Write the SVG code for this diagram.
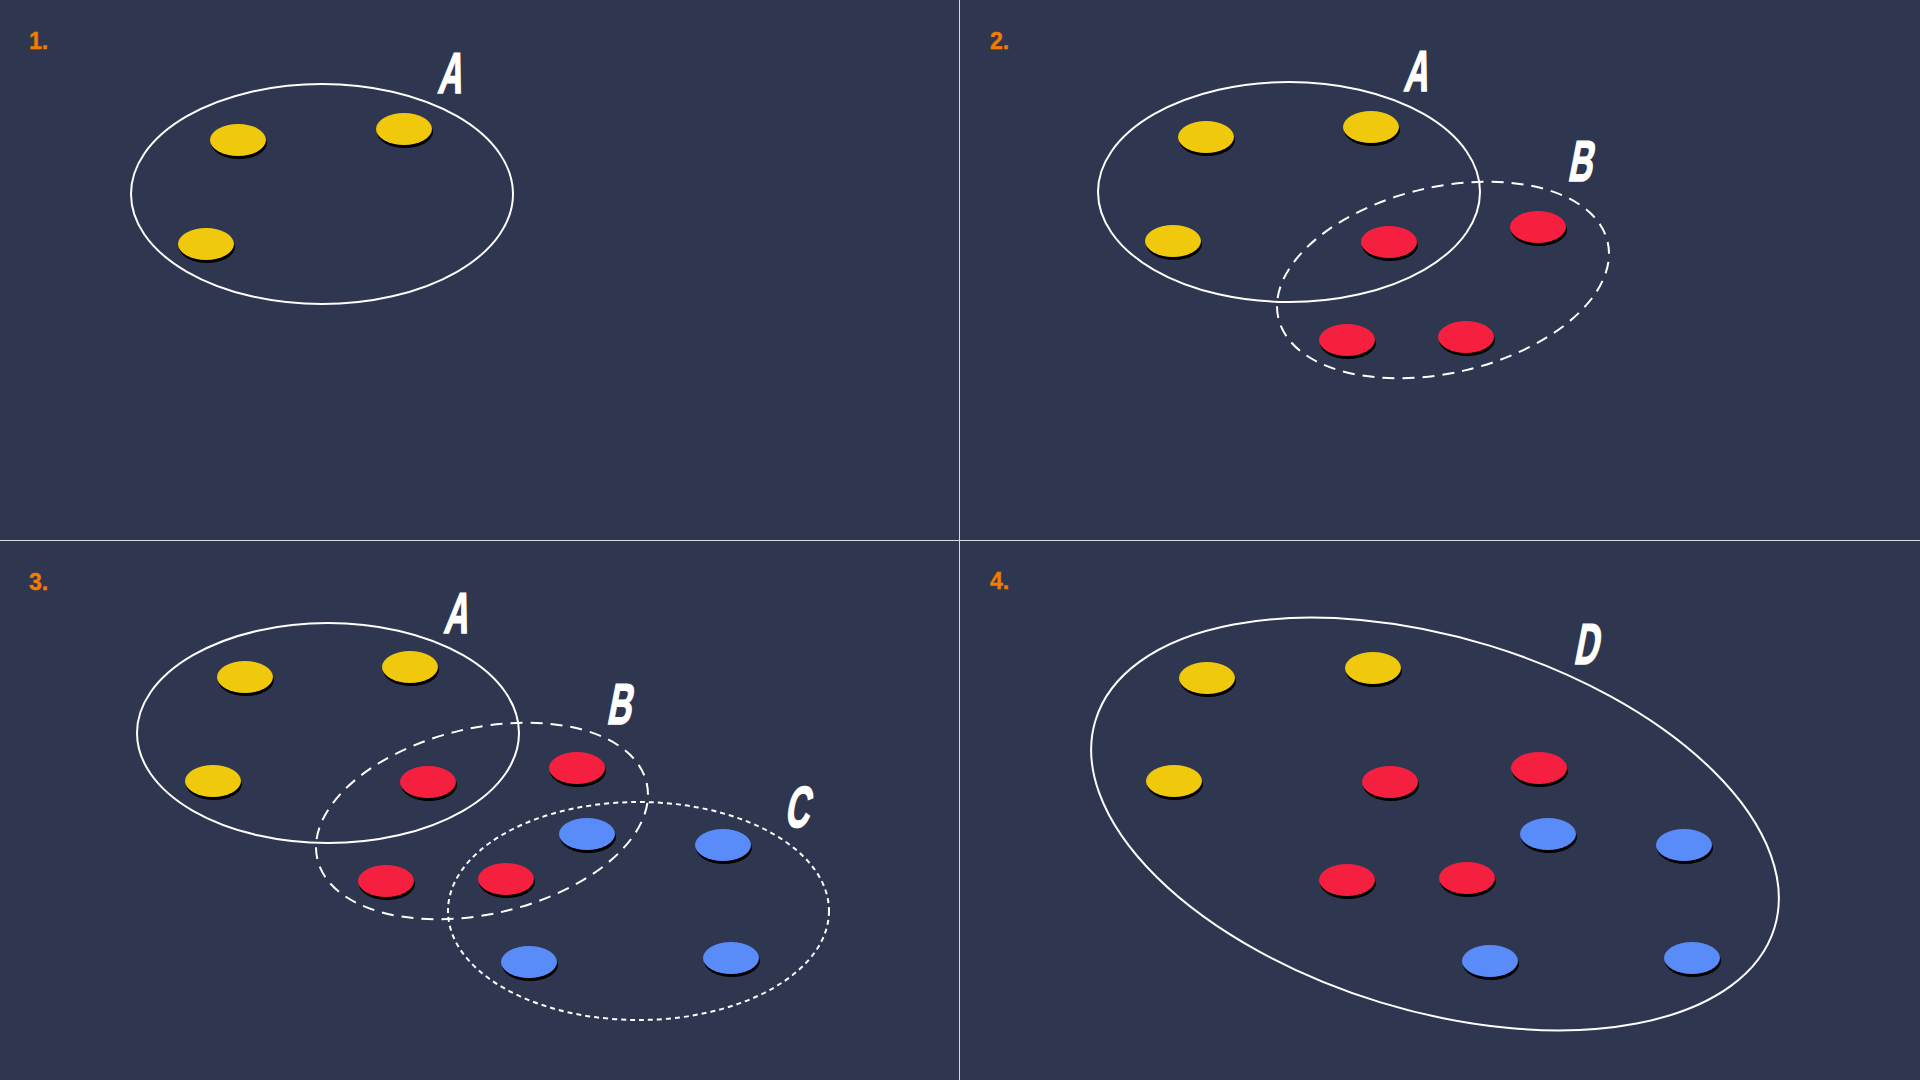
<svg xmlns="http://www.w3.org/2000/svg" xmlns:xlink="http://www.w3.org/1999/xlink" width="1920" height="1080" viewBox="0 0 1920 1080">
<style>
.num{font-family:"Liberation Sans","DejaVu Sans",sans-serif;font-weight:bold;font-size:23px;fill:#f07c00;stroke:#f07c00;stroke-width:0.4}
.let{font-family:"Liberation Sans","DejaVu Sans",sans-serif;font-weight:bold;font-size:58px;fill:#ffffff;stroke:#ffffff;stroke-width:1.5}
.set{fill:none;stroke:#ffffff;stroke-width:2}
.dash{stroke-dasharray:12 8}
.dot{stroke-dasharray:5 4}
.div{stroke:#d8dae0;stroke-width:1}
</style>
<defs>
<g id="dy"><ellipse cx="1" cy="3" rx="28" ry="16" fill="#000"/><ellipse rx="28" ry="16" fill="#f0c80c"/></g>
<g id="dr"><ellipse cx="1" cy="3" rx="28" ry="16" fill="#000"/><ellipse rx="28" ry="16" fill="#f5203f"/></g>
<g id="db"><ellipse cx="1" cy="3" rx="28" ry="16" fill="#000"/><ellipse rx="28" ry="16" fill="#598cf8"/></g>
</defs>
<rect width="1920" height="1080" fill="#2f3650"/>
<g id="dividers">
<line class="div" x1="959.5" y1="0" x2="959.5" y2="1080"/>
<line class="div" x1="0" y1="540.5" x2="1920" y2="540.5"/>
</g>

<g id="panel1">
<text class="num" x="29" y="49">1.</text>
<g id="p1-setA"><ellipse class="set" cx="322" cy="194" rx="191" ry="110"/>
<text class="let" transform="translate(437,93) skewX(-11) scale(0.58,1)">A</text></g>
<g id="p1-dots">
<use xlink:href="#dy" x="238" y="140"/>
<use xlink:href="#dy" x="404" y="129"/>
<use xlink:href="#dy" x="206" y="244"/>
</g>
</g>

<g id="panel2">
<text class="num" x="990" y="49">2.</text>
<g id="p2-setA"><ellipse class="set" cx="1289" cy="192" rx="191" ry="110"/>
<text class="let" transform="translate(1403,91) skewX(-11) scale(0.58,1)">A</text></g>
<g id="p2-setB"><ellipse class="set dash" cx="1443" cy="280" rx="169" ry="93" transform="rotate(-13 1443 280)"/>
<text class="let" transform="translate(1567,181) skewX(-11) scale(0.58,1)">B</text></g>
<g id="p2-dots">
<use xlink:href="#dy" x="1206" y="137"/>
<use xlink:href="#dy" x="1371" y="127"/>
<use xlink:href="#dy" x="1173" y="241"/>
<use xlink:href="#dr" x="1389" y="242"/>
<use xlink:href="#dr" x="1538" y="227"/>
<use xlink:href="#dr" x="1347" y="340"/>
<use xlink:href="#dr" x="1466" y="337"/>
</g>
</g>

<g id="panel3">
<text class="num" x="29" y="590">3.</text>
<g id="p3-setA"><ellipse class="set" cx="328" cy="733" rx="191" ry="110"/>
<text class="let" transform="translate(443,633) skewX(-11) scale(0.58,1)">A</text></g>
<g id="p3-setB"><ellipse class="set dash" cx="482" cy="821" rx="169" ry="93" transform="rotate(-13 482 821)"/>
<text class="let" transform="translate(606,724) skewX(-11) scale(0.58,1)">B</text></g>
<g id="p3-setC"><ellipse class="set dot" cx="638.5" cy="911" rx="190.5" ry="109"/>
<text class="let" transform="translate(784,827) skewX(-11) scale(0.58,1)">C</text></g>
<g id="p3-dots">
<use xlink:href="#dy" x="245" y="677"/>
<use xlink:href="#dy" x="410" y="667"/>
<use xlink:href="#dy" x="213" y="781"/>
<use xlink:href="#dr" x="428" y="782"/>
<use xlink:href="#dr" x="577" y="768"/>
<use xlink:href="#dr" x="386" y="881"/>
<use xlink:href="#dr" x="506" y="879"/>
<use xlink:href="#db" x="587" y="834"/>
<use xlink:href="#db" x="723" y="845"/>
<use xlink:href="#db" x="529" y="962"/>
<use xlink:href="#db" x="731" y="958"/>
</g>
</g>

<g id="panel4">
<text class="num" x="990" y="589">4.</text>
<g id="p4-setD"><ellipse class="set" cx="1435" cy="824" rx="355" ry="186.5" transform="rotate(17 1435 824)"/>
<text class="let" transform="translate(1573,664) skewX(-11) scale(0.58,1)">D</text></g>
<g id="p4-dots">
<use xlink:href="#dy" x="1207" y="678"/>
<use xlink:href="#dy" x="1373" y="668"/>
<use xlink:href="#dy" x="1174" y="781"/>
<use xlink:href="#dr" x="1390" y="782"/>
<use xlink:href="#dr" x="1539" y="768"/>
<use xlink:href="#dr" x="1347" y="880"/>
<use xlink:href="#dr" x="1467" y="878"/>
<use xlink:href="#db" x="1548" y="834"/>
<use xlink:href="#db" x="1684" y="845"/>
<use xlink:href="#db" x="1490" y="961"/>
<use xlink:href="#db" x="1692" y="958"/>
</g>
</g>
</svg>
